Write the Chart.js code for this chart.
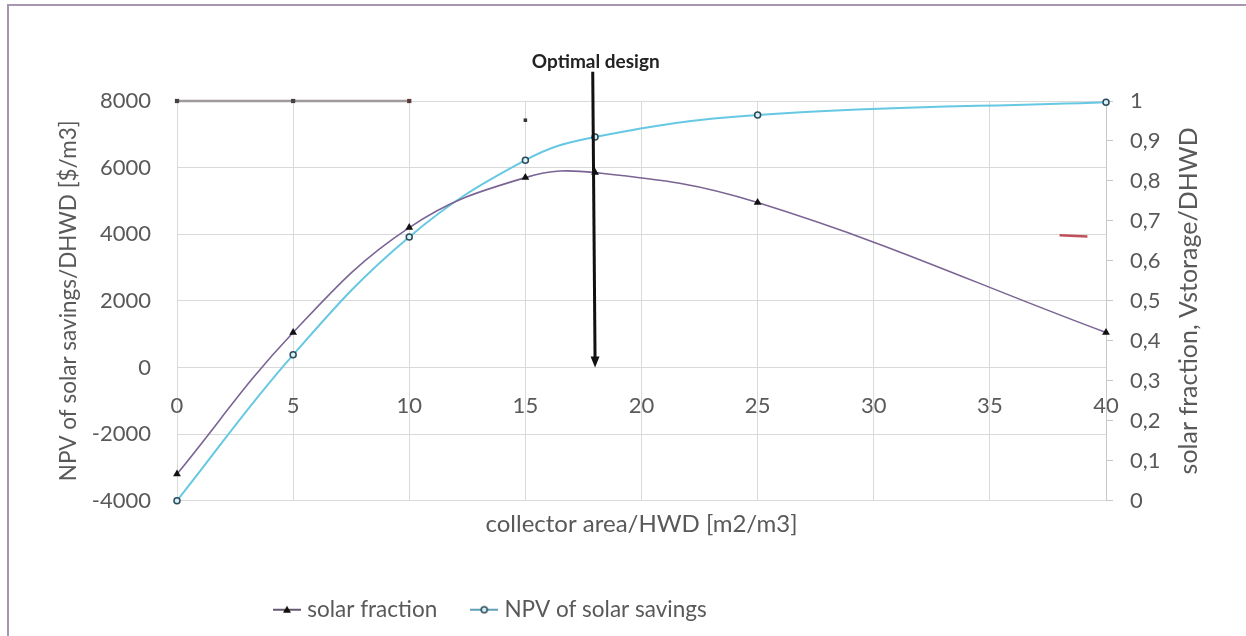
<!DOCTYPE html>
<html><head><meta charset="utf-8">
<script src="https://cdn.jsdelivr.net/npm/chart.js@4"></script>
<style>
html,body{margin:0;padding:0;background:#fff;}
#wrap{position:relative;width:1246px;height:636px;overflow:hidden;}
#frame{position:absolute;left:7px;top:4px;right:-5px;bottom:-5px;border-left:2px solid #a896b0;border-top:2px solid #a896b0;}
canvas{position:absolute;left:0;top:0;}
</style></head><body>
<div id="wrap"><div id="frame"></div><canvas id="c" width="1246" height="636"></canvas></div>
<script>
// ---- data ----
const collectorArea = [0, 5, 10, 15, 18, 25, 40];
const solarFractionValues = [-3200, 1050, 4200, 5700, 5850, 4950, 1050];   // left axis
const npvValues = [0, 0.365, 0.66, 0.852, 0.91, 0.965, 0.997];             // right axis
const storageX = [0, 5, 10, 15, 18, 38, 39.2];
const storageY = [1, 1, 1, 0.952, 0.91, 0.664, 0.661];
const xTicks = [0, 5, 10, 15, 20, 25, 30, 35, 40];
const leftTicks = [-4000, -2000, 0, 2000, 4000, 6000, 8000];
const rightTicks = [0, 0.1, 0.2, 0.3, 0.4, 0.5, 0.6, 0.7, 0.8, 0.9, 1];
const optimalX = 18;
const optimalLabel = 'Optimal design';
const arrowTopValue = 8880;
const labelValue = 9180;

const FONT = 'Lato';
const GREY = '#595959';
const GRID = '#d9d9d9';
const PURPLE = '#7a6494';
const CYAN = '#66c8e2';

function legendIcon(kind){
  const c = document.createElement('canvas');
  c.width = 28; c.height = 12;
  const g = c.getContext('2d');
  g.lineWidth = 1.6;
  if (kind === 'tri'){
    g.strokeStyle = '#3d3350';
    g.beginPath(); g.moveTo(0,6); g.lineTo(28,6); g.stroke();
    g.fillStyle = '#111';
    g.beginPath(); g.moveTo(14,2); g.lineTo(18,9); g.lineTo(10,9); g.closePath(); g.fill();
  } else {
    g.strokeStyle = '#3a8aa6';
    g.beginPath(); g.moveTo(0,6); g.lineTo(28,6); g.stroke();
    g.fillStyle = '#d8f0f8'; g.strokeStyle = '#2b4a5a'; g.lineWidth = 1.5;
    g.beginPath(); g.arc(14,6,3,0,Math.PI*2); g.fill(); g.stroke();
  }
  return c;
}
const iconTri = legendIcon('tri');
const iconCirc = legendIcon('circ');

const overlay = {
  id: 'overlay',
  afterLayout(chart){
    const lg = chart.legend;
    if (lg){ const w = lg.right - lg.left; lg.left = 240; lg.right = 240 + w; }
  },
  afterDatasetsDraw(chart){
    const {ctx, scales} = chart;
    const x = scales.x, y = scales.y;
    const pxB = x.getPixelForValue(optimalX);
    const pxT = x.getPixelForValue(optimalX - 0.1);
    const yT = y.getPixelForValue(arrowTopValue);
    const yB = y.getPixelForValue(0);
    ctx.save();
    ctx.strokeStyle = '#111'; ctx.fillStyle = '#111'; ctx.lineWidth = 3;
    ctx.beginPath(); ctx.moveTo(pxT, yT); ctx.lineTo(pxB, yB - 9); ctx.stroke();
    ctx.beginPath(); ctx.moveTo(pxB - 4.5, yB - 11); ctx.lineTo(pxB + 4.5, yB - 11); ctx.lineTo(pxB, yB); ctx.closePath(); ctx.fill();
    ctx.font = 'bold 19px ' + FONT;
    ctx.fillStyle = '#222'; ctx.textAlign = 'center'; ctx.textBaseline = 'middle';
    ctx.fillText(optimalLabel, pxT + 3, y.getPixelForValue(labelValue));
    // right axis title (reads bottom-to-top)
    const ca = chart.chartArea;
    ctx.translate(1189, (ca.top + ca.bottom) / 2);
    ctx.rotate(-Math.PI / 2);
    ctx.font = '25px ' + FONT; ctx.fillStyle = GREY;
    ctx.fillText('solar fraction, Vstorage/DHWD', 0, 0);
    ctx.restore();
  }
};

const pts = (xs, ys) => xs.map((v, i) => ({x: v, y: ys[i]}));

new Chart(document.getElementById('c'), {
  type: 'line',
  data: {
    datasets: [
      {
        label: 'solar fraction',
        data: pts(collectorArea, solarFractionValues),
        yAxisID: 'y', xAxisID: 'x', clip: false,
        borderColor: PURPLE, borderWidth: 1.6,
        pointStyle: 'triangle', pointRadius: 4.5, pointBackgroundColor: '#111', pointBorderColor: '#111', pointBorderWidth: 0,
        tension: 0.4, fill: false
      },
      {
        label: 'NPV of solar savings',
        data: pts(collectorArea, npvValues),
        yAxisID: 'y1', xAxisID: 'x', clip: false,
        borderColor: CYAN, borderWidth: 2,
        pointStyle: 'circle', pointRadius: 3, pointBackgroundColor: '#d8f0f8', pointBorderColor: '#2b4a5a', pointBorderWidth: 1.5,
        tension: 0.4, fill: false
      },
      {
        label: 'Vstorage',
        data: pts(storageX, storageY),
        yAxisID: 'y1', xAxisID: 'x', clip: false,
        borderWidth: 2.5,
        segment: {
          borderColor: c => c.p0DataIndex < 2 ? '#a09a9a' : (c.p0DataIndex === 5 ? '#c0505a' : 'rgba(0,0,0,0)')
        },
        pointStyle: 'rect',
        pointRadius: [3, 3, 3, 2.5, 2.8, 0, 0],
        pointBackgroundColor: ['#444', '#444', '#5a3a3a', '#333', '#b04848', '#000', '#000'],
        pointBorderWidth: 0,
        tension: 0, fill: false
      }
    ]
  },
  options: {
    responsive: false, animation: false, devicePixelRatio: 1,
    layout: {padding: {top: 101, left: 0, right: 0, bottom: 5}},
    plugins: {
      legend: {
        position: 'bottom', align: 'start',
        labels: {
          usePointStyle: true, pointStyleWidth: 18, padding: 38,
          color: GREY, font: {family: FONT, size: 22.5},
          generateLabels: chart => chart.data.datasets.slice(0, 2).map((d, i) => ({
            text: d.label, datasetIndex: i, pointStyle: i === 0 ? iconTri : iconCirc,
            fontColor: GREY, lineWidth: 0, strokeStyle: 'rgba(0,0,0,0)', fillStyle: 'rgba(0,0,0,0)', hidden: false
          }))
        }
      },
      tooltip: {enabled: false}
    },
    scales: {
      x: {
        type: 'linear', axis: 'x', min: 0, max: 40, position: {y: 0},
        afterBuildTicks: s => { s.ticks = xTicks.map(v => ({value: v})); },
        ticks: {padding: 25, color: GREY, font: {family: FONT, size: 22}, maxRotation: 0, callback: v => String(v)},
        grid: {color: GRID, drawTicks: false},
        border: {display: false},
        afterFit: s => { s.height = 0; }
      },
      x2: {
        type: 'linear', axis: 'x', min: 0, max: 40, position: 'bottom',
        ticks: {display: false}, grid: {display: false, drawTicks: false}, border: {display: false},
        title: {display: true, text: 'collector area/HWD [m2/m3]', color: GREY, font: {family: FONT, size: 24}, padding: {top: 9, bottom: 22}}
      },
      y: {
        position: 'left', min: -4000, max: 8000,
        afterBuildTicks: s => { s.ticks = leftTicks.map(v => ({value: v})); },
        ticks: {padding: 26, color: GREY, font: {family: FONT, size: 22}, callback: v => String(v)},
        grid: {color: GRID, drawTicks: false},
        border: {display: false},
        title: {display: true, text: 'NPV of solar savings/DHWD [$/m3]', color: GREY, font: {family: FONT, size: 22.5}, padding: {top: 55, bottom: 0}},
        afterFit: s => { s.width = 177; }
      },
      y1: {
        position: 'right', min: 0, max: 1,
        afterBuildTicks: s => { s.ticks = rightTicks.map(v => ({value: v})); },
        ticks: {padding: 17, color: GREY, font: {family: FONT, size: 22},
          callback: v => String(Math.round(v * 10) / 10).replace('.', ',')},
        grid: {drawOnChartArea: false, tickLength: 7, color: '#c8c8c8'},
        border: {display: true, color: '#c8c8c8'},
        afterFit: s => { s.width = 140; }
      }
    }
  },
  plugins: [overlay]
});
</script>
</body></html>
